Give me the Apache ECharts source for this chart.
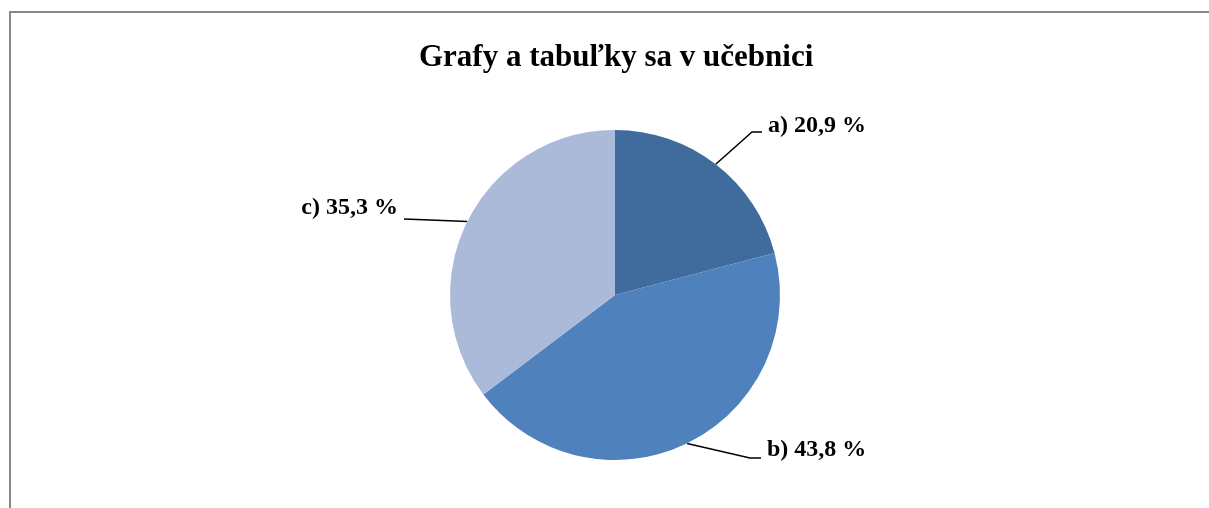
<!DOCTYPE html>
<html>
<head>
<meta charset="utf-8">
<script src="https://cdn.jsdelivr.net/npm/echarts@6/dist/echarts.min.js"></script>
<style>
  html, body { margin: 0; padding: 0; background: #fff; }
  #chart { width: 1209px; height: 508px; }
</style>
</head>
<body>
<div id="chart"></div>
<script>
// data
const categories = ["a", "b", "c"];
const shares = [20.9, 43.8, 35.3];

const sliceColors = ["#406B9D", "#4F81BD", "#AABAD8"];
// where each label sits (text anchor, leader line height and knee)
const labelSpots = [
  { x: 768, y: 126, lineY: 132, align: "left", knee: [752, 132] },
  { x: 767, y: 450, lineY: 458, align: "left", knee: [750, 458] },
  { x: 398, y: 208, lineY: 219, align: "right", knee: [430, 220] }
];

const chartDom = document.getElementById("chart");
const myChart = echarts.init(chartDom);

const option = {
  animation: false,
  title: {
    text: "Grafy a tabuľky sa v učebnici",
    left: 414,
    top: 37,
    textStyle: {
      fontFamily: "Liberation Serif",
      fontWeight: "bold",
      fontSize: 31,
      color: "#000"
    }
  },
  graphic: [
    { type: "line", shape: { x1: 9, y1: 12, x2: 1209, y2: 12 }, style: { stroke: "#888", lineWidth: 2 } },
    { type: "line", shape: { x1: 10, y1: 11, x2: 10, y2: 508 }, style: { stroke: "#888", lineWidth: 2 } }
  ],
  series: [
    {
      type: "pie",
      center: [615, 295],
      radius: 165,
      startAngle: 90,
      clockwise: true,
      color: sliceColors,
      itemStyle: { borderWidth: 0 },
      label: {
        show: true,
        position: "outside",
        fontFamily: "Liberation Serif",
        fontWeight: "bold",
        fontSize: 24,
        color: "#000",
        formatter: (p) => p.name + ") " + p.value.toFixed(1).replace(".", ",") + " %"
      },
      labelLine: {
        show: true,
        length: 40,
        length2: 10,
        lineStyle: { color: "#000", width: 1.5 }
      },
      labelLayout: (params) => {
        const s = labelSpots[params.dataIndex];
        const edge = params.labelLinePoints[0];
        const endX = s.align === "left" ? s.x - 6 : s.x + 6;
        return {
          x: s.x,
          y: s.y,
          align: s.align,
          verticalAlign: "middle",
          labelLinePoints: [edge, s.knee, [endX, s.lineY]]
        };
      },
      data: categories.map((c, i) => ({ name: c, value: shares[i] }))
    }
  ]
};

option && myChart.setOption(option);
</script>
</body>
</html>
